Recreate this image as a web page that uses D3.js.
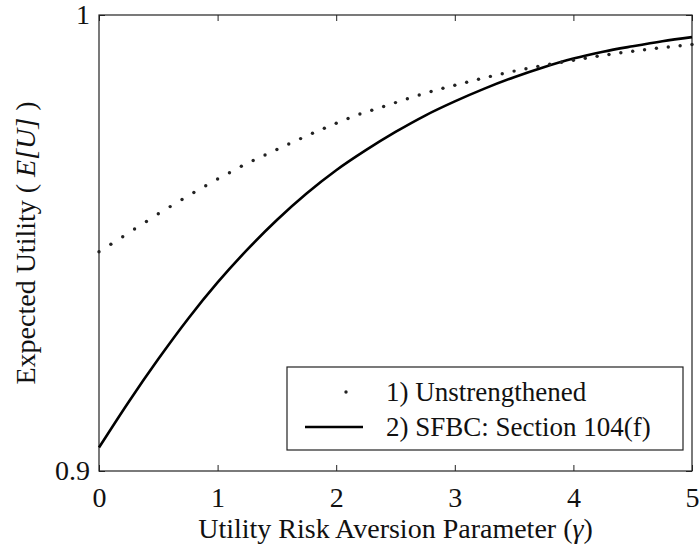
<!DOCTYPE html>
<html>
<head>
<meta charset="utf-8">
<script src="https://cdn.jsdelivr.net/npm/d3@7"></script>
<style>
  html, body { margin: 0; padding: 0; background: #fff; }
  svg { display: block; }
  svg text { font-family: "Liberation Serif", "Times New Roman", serif !important; }
</style>
</head>
<body>
<svg id="chart" width="699" height="552"></svg>
<script>
// Risk aversion parameter gamma, sampled every 0.1 for the unstrengthened case
const gammaDotted = d3.range(0, 51).map(i => +(i / 10).toFixed(1));
const unstrengthened = [
  0.94809, 0.94971, 0.95138, 0.95307, 0.95471, 0.95643, 0.95798, 0.95954, 0.96107, 0.96257,
  0.96404, 0.96542, 0.96682, 0.96809, 0.96930, 0.97050, 0.97171, 0.97289, 0.97406, 0.97518,
  0.97625, 0.97730, 0.97829, 0.97912, 0.97993, 0.98079, 0.98162, 0.98246, 0.98322, 0.98393,
  0.98461, 0.98526, 0.98592, 0.98654, 0.98713, 0.98770, 0.98822, 0.98873, 0.98919, 0.98963,
  0.99007, 0.99050, 0.99094, 0.99134, 0.99171, 0.99206, 0.99239, 0.99270, 0.99298, 0.99327,
  0.99353
];

// SFBC Section 104(f) retrofit, sampled every 0.25
const gammaSolid = [0, 0.25, 0.5, 0.75, 1, 1.25, 1.5, 1.75, 2, 2.25, 2.5,
  2.75, 3, 3.25, 3.5, 3.75, 4, 4.25, 4.5, 4.75, 5];
const sfbc = [0.90515, 0.91515, 0.92455, 0.93335, 0.94135, 0.94855, 0.95505, 0.96085,
  0.96595, 0.97035, 0.97435, 0.97795, 0.98105, 0.98385, 0.98635, 0.98855, 0.99045,
  0.99195, 0.99315, 0.99425, 0.99515];

const xTicks = [0, 1, 2, 3, 4, 5];
const yTicks = [0.9, 1];
const yTickLabels = ["0.9", "1"];
const legendLabels = ["1) Unstrengthened", "2) SFBC: Section 104(f)"];

const serif = "'Liberation Serif', 'Times New Roman', serif";
const svg = d3.select("#chart");
const plotLeft = 99, plotRight = 692, plotTop = 15, plotBottom = 471;

const x = d3.scaleLinear().domain([0, 5]).range([plotLeft, plotRight]);
const y = d3.scaleLinear().domain([0.9, 1]).range([plotBottom, plotTop]);

const axisColor = "#222";
const fontSize = 28;

// bottom axis with labels, ticks pointing inward
const gx = svg.append("g").attr("transform", `translate(0,${plotBottom})`)
  .call(d3.axisBottom(x).tickValues(xTicks).tickFormat(d3.format("d"))
    .tickSizeInner(-6).tickSizeOuter(0).tickPadding(16));
// left axis with labels
const gy = svg.append("g").attr("transform", `translate(${plotLeft},0)`)
  .call(d3.axisLeft(y).tickValues(yTicks).tickFormat((d, i) => yTickLabels[i])
    .tickSizeInner(-6).tickSizeOuter(0).tickPadding(9));
// mirrored top / right ticks without labels
const gt = svg.append("g").attr("transform", `translate(0,${plotTop})`)
  .call(d3.axisTop(x).tickValues(xTicks).tickFormat("").tickSizeInner(-6).tickSizeOuter(0));
const gr = svg.append("g").attr("transform", `translate(${plotRight},0)`)
  .call(d3.axisRight(y).tickValues(yTicks).tickFormat("").tickSizeInner(-6).tickSizeOuter(0));

[gx, gy, gt, gr].forEach(g => {
  g.attr("font-family", serif).attr("font-size", fontSize);
  g.select(".domain").remove();
  g.selectAll(".tick line").attr("stroke", axisColor).attr("stroke-width", 1);
  g.selectAll(".tick text").attr("fill", "#111");
});

// plot frame
svg.append("rect")
  .attr("x", plotLeft).attr("y", plotTop)
  .attr("width", plotRight - plotLeft).attr("height", plotBottom - plotTop)
  .attr("fill", "none").attr("stroke", axisColor).attr("stroke-width", 1.2);

// solid curve
const line = d3.line().x(d => x(d[0])).y(d => y(d[1])).curve(d3.curveMonotoneX);
svg.append("path")
  .datum(gammaSolid.map((g, i) => [g, sfbc[i]]))
  .attr("d", line)
  .attr("fill", "none").attr("stroke", "#000").attr("stroke-width", 2.6);

// dotted series: one dot per sample
svg.append("g").selectAll("circle")
  .data(gammaDotted.map((g, i) => [g, unstrengthened[i]]))
  .join("circle")
  .attr("cx", d => x(d[0])).attr("cy", d => y(d[1]))
  .attr("r", 1.7).attr("fill", "#222");

// axis titles
const xt = svg.append("text")
  .attr("x", (plotLeft + plotRight) / 2).attr("y", 538)
  .attr("text-anchor", "middle").attr("font-family", serif)
  .attr("font-size", fontSize).attr("fill", "#111");
xt.append("tspan").text("Utility Risk Aversion Parameter (");
xt.append("tspan").attr("font-style", "italic").text("γ");
xt.append("tspan").text(")");

const yt = svg.append("text")
  .attr("transform", `translate(35,${(plotTop + plotBottom) / 2}) rotate(-90)`)
  .attr("text-anchor", "middle").attr("font-family", serif)
  .attr("font-size", fontSize).attr("fill", "#111");
yt.append("tspan").text("Expected Utility ( ");
yt.append("tspan").attr("font-style", "italic").text("E[U]");
yt.append("tspan").text(" )");

// legend
const lg = svg.append("g");
lg.append("rect")
  .attr("x", 287).attr("y", 367).attr("width", 396).attr("height", 83)
  .attr("fill", "#fff").attr("stroke", axisColor).attr("stroke-width", 1.2);
lg.append("circle").attr("cx", 346).attr("cy", 392).attr("r", 1.7).attr("fill", "#222");
lg.append("line").attr("x1", 305).attr("x2", 363).attr("y1", 427).attr("y2", 427)
  .attr("stroke", "#000").attr("stroke-width", 2.6);
lg.selectAll("text.lab").data(legendLabels).join("text")
  .attr("class", "lab")
  .attr("x", 386).attr("y", (d, i) => 392 + i * 35)
  .attr("dy", "0.35em")
  .attr("font-family", serif).attr("font-size", 27).attr("fill", "#111")
  .text(d => d);
</script>
</body>
</html>
